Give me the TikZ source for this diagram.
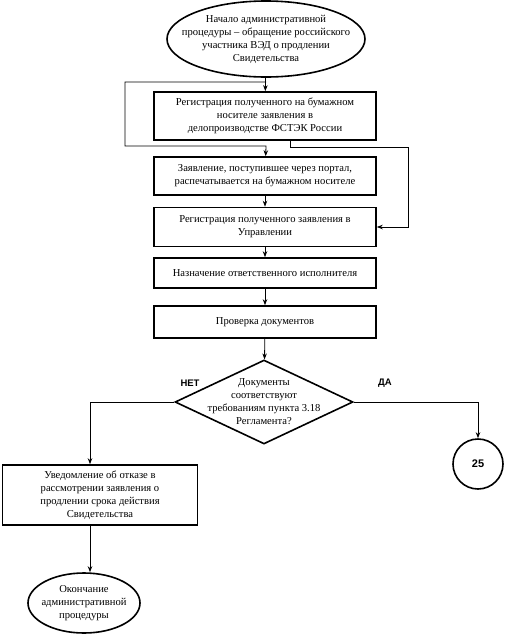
\documentclass[tikz,border=0pt]{standalone}
\usepackage{fontspec}
\setmainfont{Liberation Serif}
\newfontfamily\lsans{Liberation Sans}
\usetikzlibrary{shapes.geometric,arrows.meta}
\begin{document}
\begin{tikzpicture}[x=1pt,y=-1pt,
  txt/.style={font=\fontsize{10.6}{13}\selectfont, align=center},
  procbox/.style={draw, line width=1.6pt, txt, inner sep=0pt},
  term/.style={draw, ellipse, line width=1.6pt, inner sep=0pt},
  decis/.style={draw, diamond, line width=1.6pt, inner sep=0pt},
  conn/.style={line width=0.8pt, -{Stealth[length=6pt,width=4.5pt]}},
  lbl/.style={font=\lsans\bfseries\fontsize{9.5}{10}\selectfont}
]
\useasboundingbox (0,0) rectangle (507,635);
\node[term, minimum width=198pt, minimum height=76pt,
  label={[txt]center:Начало административной\\процедуры -- обращение российского\\участника ВЭД о продлении\\Свидетельства}] (start) at (266,39) {};
\node[procbox, minimum width=222pt, minimum height=48pt] (b1) at (265,116)
  {Регистрация полученного на бумажном\\носителе заявления в\\делопроизводстве ФСТЭК России};
\node[procbox, minimum width=222pt, minimum height=38pt] (b2) at (265,176)
  {Заявление, поступившее через портал,\\распечатывается на бумажном носителе};
\node[procbox, minimum width=222pt, minimum height=39pt] (b3) at (265,227)
  {Регистрация полученного заявления в\\Управлении};
\node[procbox, minimum width=222pt, minimum height=30pt] (b4) at (265,273)
  {Назначение ответственного исполнителя};
\node[procbox, minimum width=222pt, minimum height=32pt] (b5) at (265,322)
  {Проверка документов};
\node[decis, minimum width=178pt, minimum height=84pt,
  label={[txt]center:Документы\\соответствуют\\требованиям пункта 3.18\\Регламента?}] (dec) at (264,402) {};
\node[draw, circle, line width=1.6pt, minimum size=50pt, inner sep=0pt,
  font=\lsans\bfseries\fontsize{11}{12}\selectfont] (c25) at (478,464) {25};
\node[procbox, minimum width=195pt, minimum height=60pt] (b6) at (100,495)
  {Уведомление об отказе в\\рассмотрении заявления о\\продлении срока действия\\Свидетельства};
\node[term, minimum width=112pt, minimum height=60pt,
  label={[txt]center:Окончание\\административной\\процедуры}] (fin) at (84,603) {};
\node[lbl] (net) at (190,383) {НЕТ};
\node[lbl] (da) at (385,383) {ДА};

\coordinate (j1) at (266,82);
\coordinate (l1) at (125,82);
\coordinate (l2) at (125,146);
\coordinate (j2) at (266,146);
\coordinate (r1) at (290,147);
\coordinate (r2) at (408,147);
\coordinate (nl) at (90,402);
\coordinate (dr) at (478,402);

\draw[conn] (start) -- (b1);
\draw[conn] (j1) -- (l1) -- (l2) -- (j2) -- (b2);
\draw[conn] (b1.south -| r1) -- (r1) -- (r2) |- (b3.east);
\draw[conn] (b2) -- (b3);
\draw[conn] (b3) -- (b4);
\draw[conn] (b4) -- (b5);
\draw[conn] (b5) -- (dec);
\draw[conn] (dec.west) -- (nl) -- (nl |- b6.north);
\draw[conn] (dec.east) -- (dr) -- (c25);
\draw[conn] (b6.south -| nl) -- (nl |- fin.north);
\end{tikzpicture}
\end{document}
